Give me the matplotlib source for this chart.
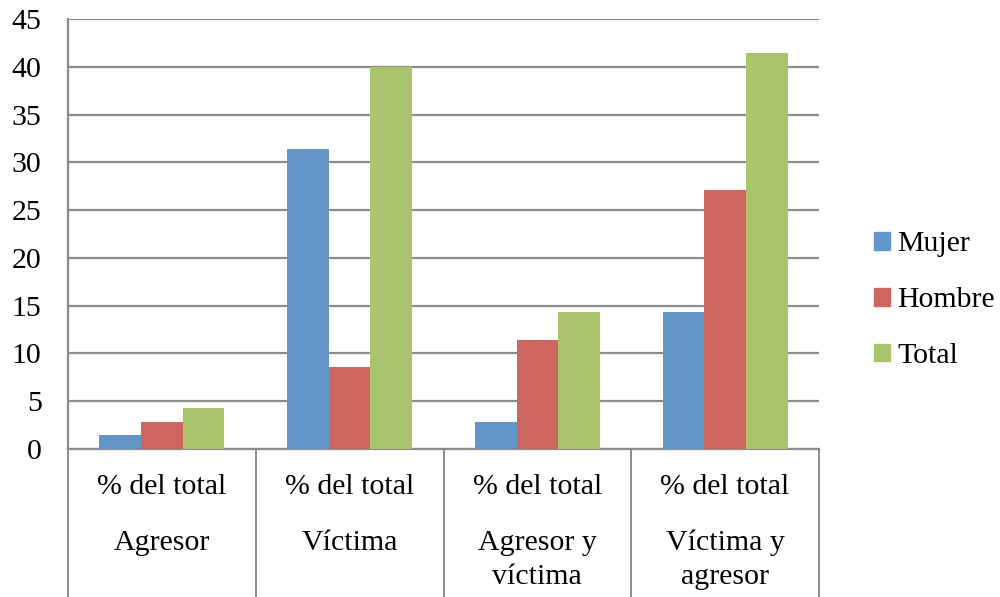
import matplotlib
matplotlib.use("Agg")
import matplotlib.pyplot as plt
import numpy as np
from matplotlib.patches import Patch

plt.rcParams['font.family'] = ['Liberation Serif', 'DejaVu Serif']

categories_top = ["% del total"] * 4
categories = ["Agresor", "Víctima", "Agresor y\nvíctima", "Víctima y\nagresor"]
series_names = ["Mujer", "Hombre", "Total"]
mujer = [1.43, 31.43, 2.86, 14.29]
hombre = [2.86, 8.57, 11.43, 27.14]
total = [4.29, 40.0, 14.29, 41.43]
colors = ["#6296C9", "#CD665F", "#AAC46B"]
yticks = [0, 5, 10, 15, 20, 25, 30, 35, 40, 45]

FS = 21.5
fig = plt.figure(figsize=(10, 5.97), dpi=100)
ax = fig.add_axes([0.068, 0.248, 0.751, 0.720])

x = np.arange(len(categories))
w = 0.222
for i, (vals, c) in enumerate(zip([mujer, hombre, total], colors)):
    ax.bar(x + (i - 1) * w, vals, width=w, color=c, zorder=3, linewidth=0)

ax.set_xlim(-0.5, len(categories) - 0.5)
ax.set_ylim(0, 45)
ax.set_yticks(yticks)
ax.set_yticklabels([str(t) for t in yticks], fontsize=FS)
ax.tick_params(axis='y', length=0, pad=19)
ax.set_xticks([])
grid_c = "#8c8c8c"
ax.yaxis.grid(True, color=grid_c, linewidth=1.6, zorder=0)
for s in ["top", "right"]:
    ax.spines[s].set_visible(False)
for s in ["left", "bottom"]:
    ax.spines[s].set_color(grid_c)
    ax.spines[s].set_linewidth(1.6)

trans = ax.get_xaxis_transform()
for b in np.arange(-0.5, len(categories), 1.0):
    ax.plot([b, b], [0, -0.35], transform=trans, color=grid_c, linewidth=1.4, clip_on=False)

line_y = [-0.2187, -0.2978]
for xi, top, lab in zip(x, categories_top, categories):
    ax.text(xi, -0.0884, top, transform=trans, ha='center', va='center', fontsize=FS)
    for k, part in enumerate(lab.split("\n")):
        ax.text(xi, line_y[k], part, transform=trans, ha='center', va='center', fontsize=FS)

handles = [Patch(color=c) for c in colors]
leg = fig.legend(handles, series_names, loc='center left', bbox_to_anchor=(0.874, 0.497),
                 frameon=False, fontsize=FS, handlelength=0.53, handleheight=0.53,
                 labelspacing=1.0, handletextpad=0.25, borderaxespad=0, borderpad=0)

fig.savefig("out.png", dpi=100)
